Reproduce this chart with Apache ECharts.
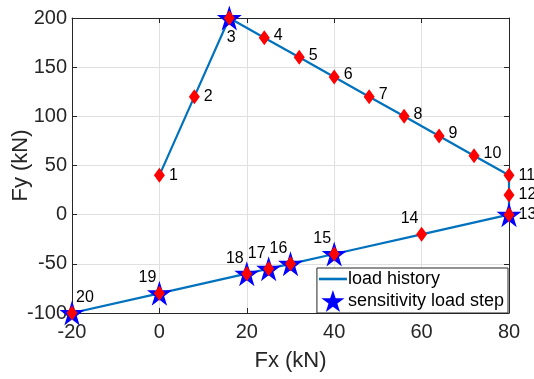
<!DOCTYPE html>
<html><head><meta charset="utf-8">
<script src="https://cdn.jsdelivr.net/npm/echarts@6/dist/echarts.min.js"></script>
<style>html,body{margin:0;padding:0;background:#fff}#c{width:534px;height:379px}</style>
</head><body><div id="c"></div>
<script>
const fx = [0, 8, 16, 24, 32, 40, 48, 56, 64, 72, 80, 80, 80, 60, 40, 30, 25, 20, 0, -20];
const fy = [40, 120, 200, 180, 160, 140, 120, 100, 80, 60, 40, 20, 0, -20, -40, -50, -55, -60, -80, -100];
const stepLabels = ['1','2','3','4','5','6','7','8','9','10','11','12','13','14','15','16','17','18','19','20'];
const sensitivitySteps = [3, 13, 15, 16, 17, 18, 19, 20];
const xTicks = [-20, 0, 20, 40, 60, 80];
const yTicks = [-100, -50, 0, 50, 100, 150, 200];

const font = 'Liberation Sans, Arial, Helvetica, sans-serif';
const pts = fx.map((x, i) => [x, fy[i]]);
const starPts = sensitivitySteps.map(s => [fx[s-1], fy[s-1]]);

function labelFor(i) {
  if (i === 2) return {position: 'bottom', offset: [2, 0]};
  if (i === 19) return {position: 'top', offset: [13, 4]};
  if (i >= 13) return {position: 'top', offset: [-12, 4]};
  if (i >= 3 && i <= 9) return {position: 'right', offset: [0, -2]};
  return {position: 'right', offset: [0, 0]};
}

const diamondData = pts.map((p, i) => {
  const l = labelFor(i);
  return {value: p, label: {show: true, formatter: stepLabels[i], position: l.position, offset: l.offset}};
});

const starPath = 'path://M50,0 L61.8,36.2 L100,36.2 L69.1,58.6 L80.9,95.1 L50,72.4 L19.1,95.1 L30.9,58.6 L0,36.2 L38.2,36.2 Z';

const chart = echarts.init(document.getElementById('c'), null, {renderer: 'canvas'});
const axisLine = {show: true, onZero: false, lineStyle: {color: '#262626', width: 1}};
const tick = {show: true, inside: true, length: 5, lineStyle: {color: '#262626'}};
chart.setOption({
  animation: false,
  backgroundColor: '#fff',
  grid: {left: 72, right: 25, top: 18, bottom: 66, containLabel: false, outerBoundsMode: 'none'},
  xAxis: [{
    type: 'value', min: -20, max: 80, interval: 20,
    name: 'Fx (kN)', nameLocation: 'middle', nameGap: 37, nameMoveOverlap: false,
    nameTextStyle: {fontFamily: font, fontSize: 22, color: '#262626'},
    axisLine: axisLine, axisTick: tick,
    axisLabel: {fontFamily: font, fontSize: 20, color: '#262626', margin: 9,
      formatter: v => xTicks.includes(v) ? String(v) : ''},
    splitLine: {show: true, lineStyle: {color: '#e0e0e0', width: 1}}
  }, {
    type: 'value', min: -20, max: 80, interval: 20, position: 'top',
    axisLine: axisLine, axisTick: tick,
    axisLabel: {show: false}, splitLine: {show: false}
  }],
  yAxis: [{
    type: 'value', min: -100, max: 200, interval: 50,
    name: 'Fy (kN)', nameLocation: 'middle', nameGap: 40, nameRotate: 90, nameMoveOverlap: false,
    nameTextStyle: {fontFamily: font, fontSize: 22, color: '#262626'},
    axisLine: axisLine, axisTick: tick,
    axisLabel: {fontFamily: font, fontSize: 20, color: '#262626', margin: 5,
      formatter: v => yTicks.includes(v) ? String(v) : ''},
    splitLine: {show: true, lineStyle: {color: '#e0e0e0', width: 1}}
  }, {
    type: 'value', min: -100, max: 200, interval: 50, position: 'right',
    axisLine: axisLine, axisTick: tick,
    axisLabel: {show: false}, splitLine: {show: false}
  }],
  legend: {
    orient: 'vertical', right: 26, bottom: 66,
    backgroundColor: '#fff', borderColor: '#262626', borderWidth: 1, borderRadius: 0,
    padding: [2, 4, 1, 2], itemGap: 2, itemWidth: 28, itemHeight: 22,
    textStyle: {fontFamily: font, fontSize: 18, color: '#000', padding: [0, 0, 0, -4]},
    data: [
      {name: 'load history', icon: 'path://M0,10 L28,10 L28,12.6 L0,12.6 Z'},
      {name: 'sensitivity load step', icon: starPath}
    ]
  },
  series: [
    {
      name: 'load history', type: 'line', data: pts, showSymbol: false, symbol: 'none',
      lineStyle: {color: '#0072BD', width: 2.2}, itemStyle: {color: '#0072BD'}, z: 2
    },
    {
      name: 'sensitivity load step', type: 'scatter', data: starPts,
      symbol: starPath, symbolSize: 25, itemStyle: {color: '#0000FF', opacity: 1}, z: 3
    },
    {
      name: 'steps', type: 'scatter', data: diamondData,
      symbol: 'diamond', symbolSize: [11, 15], itemStyle: {color: '#FF0000', opacity: 1}, z: 4,
      label: {fontFamily: font, fontSize: 16, color: '#000', distance: 4}
    }
  ]
});
</script></body></html>
